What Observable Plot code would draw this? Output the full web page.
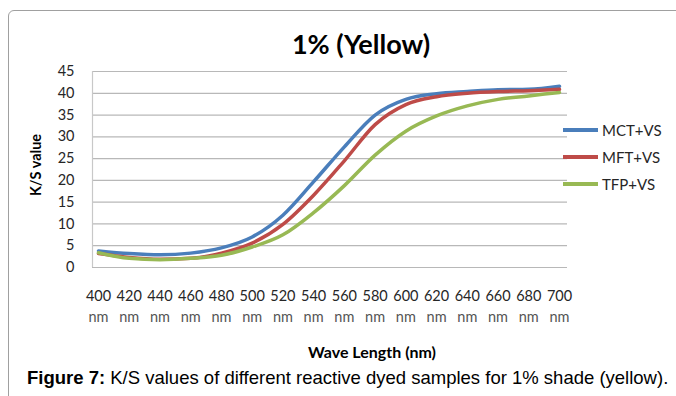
<!DOCTYPE html>
<html>
<head>
<meta charset="utf-8">
<script src="https://cdn.jsdelivr.net/npm/d3@7"></script>
<script src="https://cdn.jsdelivr.net/npm/@observablehq/plot@0.6"></script>
<style>
  html, body { margin: 0; padding: 0; background: #fff; }
  #wrap { position: relative; width: 676px; height: 396px; overflow: hidden; font-family: Lato, sans-serif; }
  #border { position: absolute; left: 8px; top: 10px; width: 720px; height: 420px; border: 1px solid #a0a0a0; border-radius: 6px; box-sizing: border-box; }
  #chart { position: absolute; left: 0; top: 0; }
  .abs { position: absolute; white-space: nowrap; }
  #title { left: 361px; top: 53px; transform: translate(-50%, -78%); font-weight: bold; font-size: 27px; color: #000; }
  #ylab { left: 35px; top: 165px; transform: translate(-50%, -50%) rotate(-90deg); font-weight: bold; font-size: 14.5px; color: #000; }
  #xlab { left: 372px; top: 351px; transform: translate(-50%, -50%); font-weight: bold; font-size: 16px; color: #000; }
  #caption { left: 27px; top: 385px; transform: translateY(-80%); font-family: "Liberation Sans", Arial, sans-serif; font-size: 18.5px; color: #000; }
  .leg { position: absolute; left: 563px; height: 0; }
  .leg .sw { position: absolute; left: 0; top: -1.75px; width: 35px; height: 3.5px; }
  .leg .tx { position: absolute; left: 39px; top: 0; transform: translateY(-50%); font-size: 15px; color: #262626; }
</style>
</head>
<body>
<div id="wrap">
  <div id="border"></div>
  <div id="chart"></div>
  <div id="title" class="abs">1% (Yellow)</div>
  <div id="ylab" class="abs">K/S value</div>
  <div id="xlab" class="abs">Wave Length (nm)</div>
  <div id="legend"></div>
  <div id="caption" class="abs"><b>Figure 7:</b> K/S values of different reactive dyed samples for 1% shade (yellow).</div>
</div>
<script>
const wavelengths = [400, 420, 440, 460, 480, 500, 520, 540, 560, 580, 600, 620, 640, 660, 680, 700];
const seriesNames = ["MCT+VS", "MFT+VS", "TFP+VS"];
const seriesColors = ["#4a7ebb", "#be4b48", "#98b954"];
const mct = [3.8, 3.2, 2.9, 3.3, 4.5, 7.0, 12.0, 19.7, 27.7, 35.0, 38.6, 39.9, 40.4, 40.8, 40.9, 41.6];
const mft = [3.2, 2.3, 1.9, 2.1, 3.3, 5.6, 9.9, 16.6, 24.5, 32.8, 37.4, 39.2, 40.0, 40.4, 40.6, 40.9];
const tfp = [3.4, 2.1, 1.8, 2.1, 2.8, 4.7, 7.5, 12.6, 18.8, 25.8, 31.3, 34.8, 37.1, 38.6, 39.4, 40.2];
const yTicks = [0, 5, 10, 15, 20, 25, 30, 35, 40, 45];
const xTickUnit = "nm";

const valuesBySeries = [mct, mft, tfp];
const rows = [];
seriesNames.forEach((name, s) => {
  wavelengths.forEach((w, i) => rows.push({series: name, wl: w, ks: valuesBySeries[s][i]}));
});

const chart = Plot.plot({
  width: 676,
  height: 340,
  marginLeft: 92,
  marginRight: 109,
  marginTop: 71,
  marginBottom: 73,
  style: {fontFamily: "Lato, sans-serif", background: "transparent", overflow: "visible"},
  x: {type: "linear", domain: [400, 700], insetLeft: 6, insetRight: 8, axis: null},
  y: {domain: [0, 45], axis: null},
  color: {domain: seriesNames, range: seriesColors},
  marks: [
    Plot.ruleY(yTicks, {stroke: "#b8b8b8", strokeWidth: 1.2}),
    Plot.ruleX([wavelengths[0]], {y1: 0, y2: 45, dx: -6, stroke: "#c8c8c8", strokeWidth: 1.2}),
    Plot.axisY(yTicks, {tickSize: 0, tickPadding: 18, fontSize: 14.5, fill: "#262626", label: null}),
    Plot.text(wavelengths, {x: d => d, text: d => String(d), frameAnchor: "bottom", dy: 29, lineAnchor: "middle", fontSize: 14.5, fill: "#262626"}),
    Plot.text(wavelengths, {x: d => d, text: () => xTickUnit, frameAnchor: "bottom", dy: 50, lineAnchor: "middle", fontSize: 14.5, fill: "#555"}),
    Plot.line(rows, {x: "wl", y: "ks", z: "series", stroke: "series", strokeWidth: 3.5, curve: "monotone-x"})
  ]
});
document.getElementById("chart").appendChild(chart);

const legend = document.getElementById("legend");
const legY = [130, 157, 184];
seriesNames.forEach((name, i) => {
  const item = document.createElement("div");
  item.className = "leg";
  item.style.top = legY[i] + "px";
  item.innerHTML = `<div class="sw" style="background:${seriesColors[i]}"></div><div class="tx">${name}</div>`;
  legend.appendChild(item);
});
</script>
</body>
</html>
